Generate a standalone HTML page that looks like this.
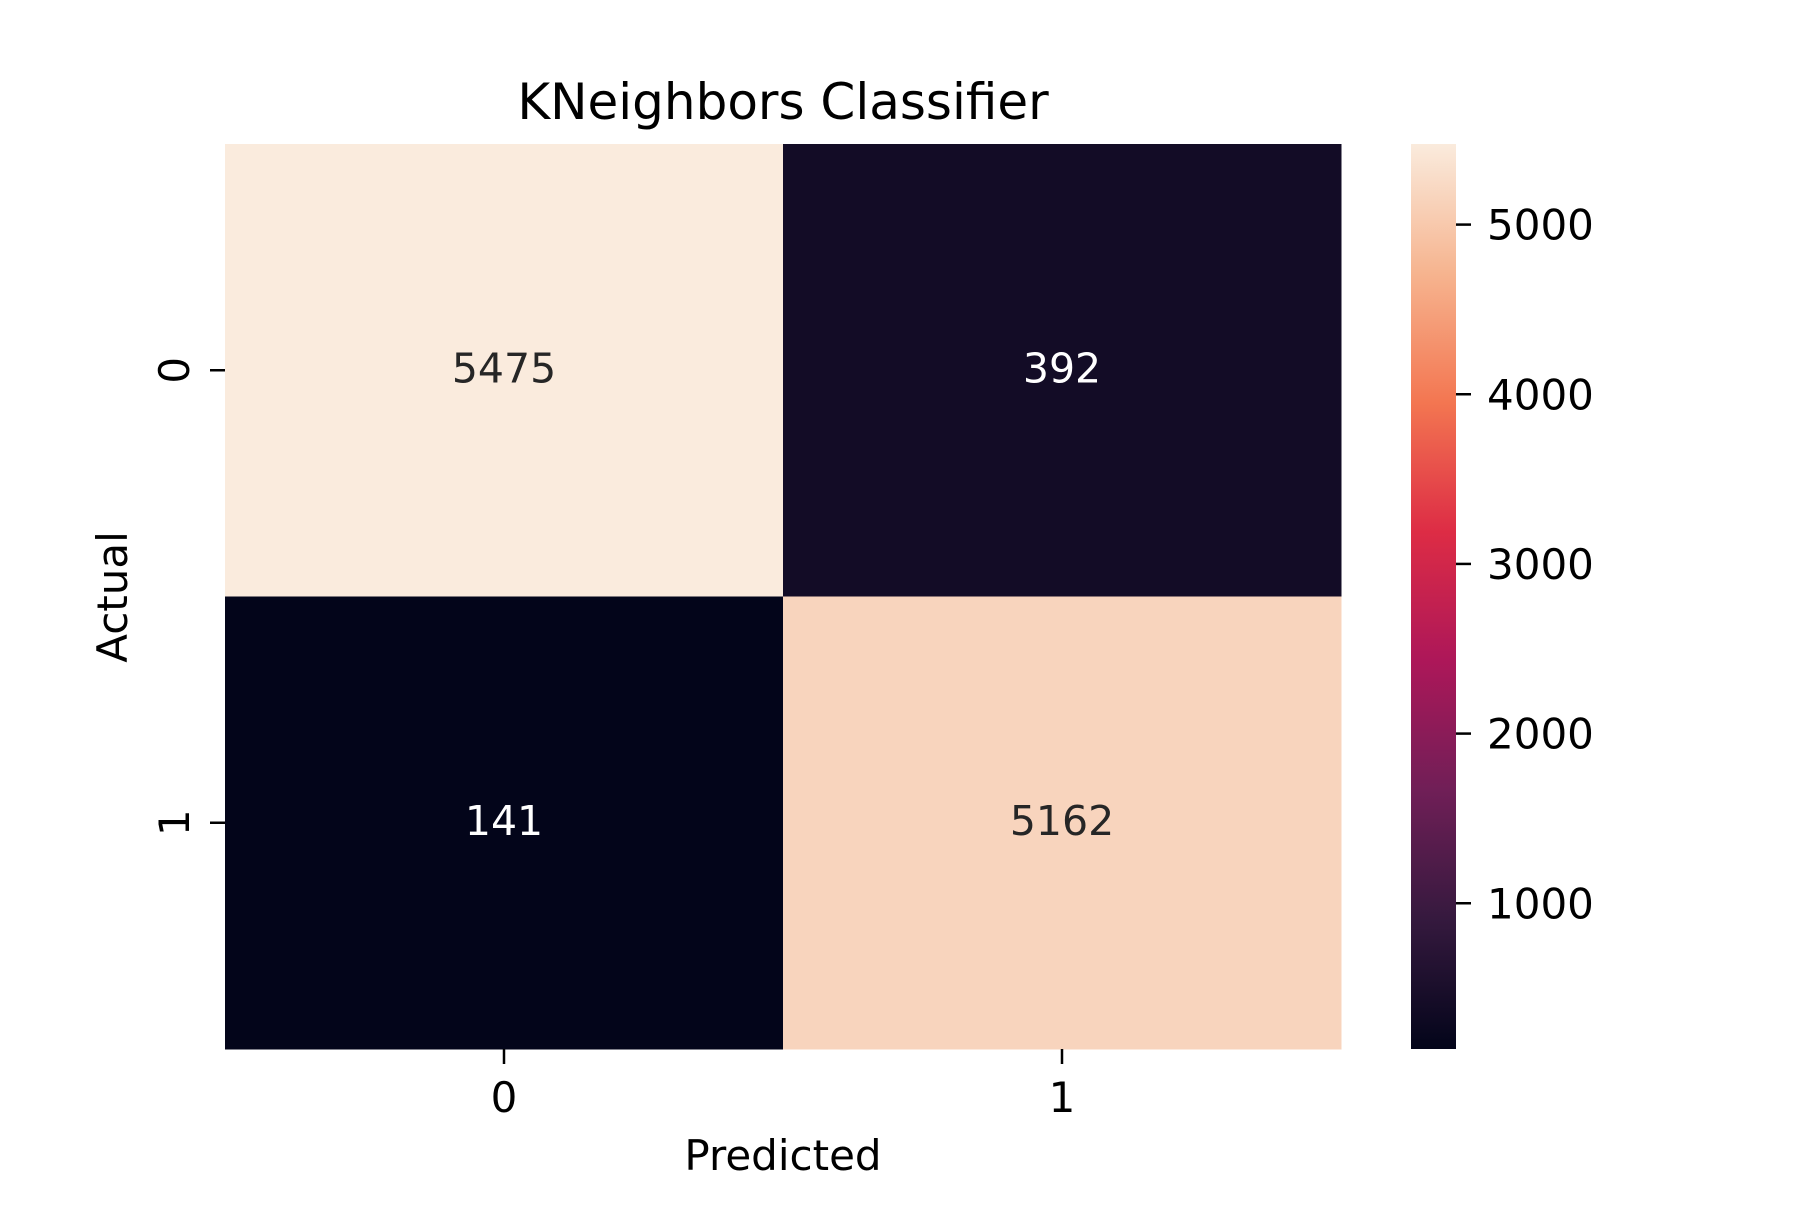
<!DOCTYPE html>
<html><head><meta charset="utf-8"><style>
html,body{margin:0;padding:0;background:#fff;}
svg text{font-family:"DejaVu Sans","Liberation Sans",sans-serif;}
</style></head><body>
<svg id="chart" width="1800" height="1200" xmlns="http://www.w3.org/2000/svg">
<defs><linearGradient id="rocket" x1="0" y1="1" x2="0" y2="0"></linearGradient></defs>
<g id="cells"></g>
<g id="axes"></g>
<text x="783" y="119" font-size="50" text-anchor="middle" fill="#000">KNeighbors Classifier</text>
<text x="783" y="1170" font-size="42" text-anchor="middle" fill="#000">Predicted</text>
<text x="0" y="0" font-size="42" text-anchor="middle" fill="#000" transform="translate(127,597) rotate(-90)">Actual</text>
<rect x="1411" y="144" width="45" height="905" fill="url(#rocket)"></rect>
<g id="cbar"></g>
</svg>
<script>
const xCategories = ["0", "1"];
const yCategories = ["0", "1"];
const row0 = [5475, 392];
const row1 = [141, 5162];
const cbarTicks = [1000, 2000, 3000, 4000, 5000];
const matrix = [row0, row1];
const vmin = Math.min(...row0, ...row1), vmax = Math.max(...row0, ...row1);
const stops = [[0,"#03051a"],[0.143,"#35193e"],[0.286,"#701f57"],[0.429,"#ad1759"],[0.571,"#dd2c45"],[0.714,"#f37651"],[0.857,"#f6b48f"],[1,"#faebdd"]];
function hex(h){return [1,3,5].map(i=>parseInt(h.substr(i,2),16));}
function cmap(t){t=Math.max(0,Math.min(1,t));for(let i=1;i<stops.length;i++){if(t<=stops[i][0]){const a=stops[i-1],b=stops[i];const f=(t-a[0])/(b[0]-a[0]);const ca=hex(a[1]),cb=hex(b[1]);return "rgb("+ca.map((v,k)=>Math.round(v+(cb[k]-v)*f)).join(",")+")";}}return stops[stops.length-1][1];}
const NS="http://www.w3.org/2000/svg";
function mk(tag,attrs,parent){const e=document.createElementNS(NS,tag);for(const k in attrs)e.setAttribute(k,attrs[k]);parent.appendChild(e);return e;}
const L=225,T=144,W=1116,H=905;
const cw=W/xCategories.length, ch=H/yCategories.length;
const xPos=i=>L+cw*(i+0.5), yPos=j=>T+ch*(j+0.5);
const norm=v=>(v-vmin)/(vmax-vmin);
const grad=document.getElementById('rocket');
stops.forEach(s=>mk('stop',{offset:s[0],'stop-color':s[1]},grad));
const cells=document.getElementById('cells'), axes=document.getElementById('axes'), cbar=document.getElementById('cbar');
matrix.forEach((row,j)=>row.forEach((v,i)=>{
  const r=mk('rect',{x:L+cw*i,y:T+ch*j,width:cw+0.5,height:ch+0.5,fill:cmap(norm(v))},cells);
  
  
  const t=mk('text',{x:xPos(i),y:yPos(j)+12,'font-size':41,'text-anchor':'middle',fill:norm(v)>0.5?'#262626':'#ffffff'},cells);
  t.textContent=v;
  
  
}));
xCategories.forEach((c,i)=>{
  const l=mk('line',{x1:xPos(i),x2:xPos(i),y1:T+H,y2:T+H+15,stroke:'#000','stroke-width':2.5},axes);
  
  
  const t=mk('text',{x:xPos(i),y:1112,'font-size':42,'text-anchor':'middle',fill:'#000'},axes);
  t.textContent=c;
  
  
});
yCategories.forEach((c,j)=>{
  const l=mk('line',{x1:L-15,x2:L,y1:yPos(j),y2:yPos(j),stroke:'#000','stroke-width':2.5},axes);
  
  
  const t=mk('text',{x:0,y:0,'font-size':42,'text-anchor':'middle',fill:'#000',transform:'translate(189,'+yPos(j)+') rotate(-90)'},axes);
  t.textContent=c;
  
  
});
cbarTicks.forEach(v=>{
  const y=T+H*(1-norm(v));
  const l=mk('line',{x1:1456,x2:1471,y1:y,y2:y,stroke:'#000','stroke-width':2.5},cbar);
  
  
  const t=mk('text',{x:1487,y:y+15,'font-size':42,fill:'#000'},cbar);
  t.textContent=v;
  
  
});
</script>
</body></html>
